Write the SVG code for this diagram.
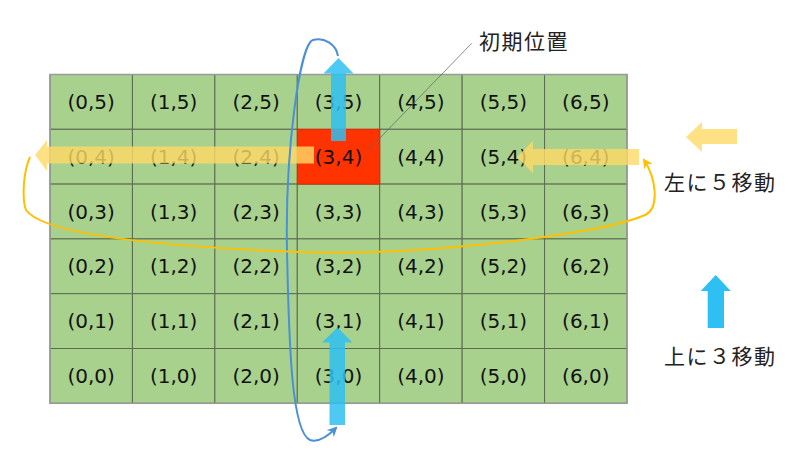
<svg xmlns="http://www.w3.org/2000/svg" width="800" height="450" viewBox="0 0 800 450">
<style>
.c{fill:#A9D18E;stroke:#5B6B50;stroke-width:1}
.r{fill:#FF3300;stroke:#E02800;stroke-width:1}
.t{font-family:"DejaVu Sans",Verdana,sans-serif;font-size:20px;fill:#111;text-anchor:middle}
.j{font-family:"Noto Sans CJK JP","Noto Sans",sans-serif;font-size:21px;fill:#222;letter-spacing:1.5px}
.y{fill:#FFD966;opacity:0.8}
.b{fill:#2EC0F2;opacity:0.85}
.bl{fill:#2EC0F2}
.cb{fill:none;stroke:#4A90D9;stroke-width:2}
.co{fill:none;stroke:#FFC000;stroke-width:2}
</style>
<defs>
<marker id="mb" viewBox="0 0 10 10" refX="8" refY="5" markerWidth="5" markerHeight="5" orient="auto"><path d="M0,0 L10,5 L0,10 L3,5 Z" fill="#4A90D9"/></marker>
<marker id="mo" viewBox="0 0 10 10" refX="8" refY="5" markerWidth="5" markerHeight="5" orient="auto"><path d="M0,0 L10,5 L0,10 L3,5 Z" fill="#FFC000"/></marker>
</defs>
<rect width="800" height="450" fill="#fff"/>
<g id="grid">
<g id="c05"><rect class="c" x="50" y="74.5" width="82.43" height="54.8"/><text class="t" x="91.2" y="109">(0,5)</text></g>
<g id="c15"><rect class="c" x="132.43" y="74.5" width="82.43" height="54.8"/><text class="t" x="173.6" y="109">(1,5)</text></g>
<g id="c25"><rect class="c" x="214.86" y="74.5" width="82.43" height="54.8"/><text class="t" x="256.1" y="109">(2,5)</text></g>
<g id="c35"><rect class="c" x="297.29" y="74.5" width="82.43" height="54.8"/><text class="t" x="338.5" y="109">(3,5)</text></g>
<g id="c45"><rect class="c" x="379.71" y="74.5" width="82.43" height="54.8"/><text class="t" x="420.9" y="109">(4,5)</text></g>
<g id="c55"><rect class="c" x="462.14" y="74.5" width="82.43" height="54.8"/><text class="t" x="503.4" y="109">(5,5)</text></g>
<g id="c65"><rect class="c" x="544.57" y="74.5" width="82.43" height="54.8"/><text class="t" x="585.8" y="109">(6,5)</text></g>

<g id="c04"><rect class="c" x="50" y="129.3" width="82.43" height="54.8"/><text class="t" x="91.2" y="163.8">(0,4)</text></g>
<g id="c14"><rect class="c" x="132.43" y="129.3" width="82.43" height="54.8"/><text class="t" x="173.6" y="163.8">(1,4)</text></g>
<g id="c24"><rect class="c" x="214.86" y="129.3" width="82.43" height="54.8"/><text class="t" x="256.1" y="163.8">(2,4)</text></g>
<g id="c44"><rect class="c" x="379.71" y="129.3" width="82.43" height="54.8"/><text class="t" x="420.9" y="163.8">(4,4)</text></g>
<g id="c54"><rect class="c" x="462.14" y="129.3" width="82.43" height="54.8"/><text class="t" x="503.4" y="163.8">(5,4)</text></g>
<g id="c64"><rect class="c" x="544.57" y="129.3" width="82.43" height="54.8"/><text class="t" x="585.8" y="163.8">(6,4)</text></g>

<g id="c03"><rect class="c" x="50" y="184.1" width="82.43" height="54.8"/><text class="t" x="91.2" y="218.6">(0,3)</text></g>
<g id="c13"><rect class="c" x="132.43" y="184.1" width="82.43" height="54.8"/><text class="t" x="173.6" y="218.6">(1,3)</text></g>
<g id="c23"><rect class="c" x="214.86" y="184.1" width="82.43" height="54.8"/><text class="t" x="256.1" y="218.6">(2,3)</text></g>
<g id="c33"><rect class="c" x="297.29" y="184.1" width="82.43" height="54.8"/><text class="t" x="338.5" y="218.6">(3,3)</text></g>
<g id="c43"><rect class="c" x="379.71" y="184.1" width="82.43" height="54.8"/><text class="t" x="420.9" y="218.6">(4,3)</text></g>
<g id="c53"><rect class="c" x="462.14" y="184.1" width="82.43" height="54.8"/><text class="t" x="503.4" y="218.6">(5,3)</text></g>
<g id="c63"><rect class="c" x="544.57" y="184.1" width="82.43" height="54.8"/><text class="t" x="585.8" y="218.6">(6,3)</text></g>

<g id="c02"><rect class="c" x="50" y="238.9" width="82.43" height="54.8"/><text class="t" x="91.2" y="273.4">(0,2)</text></g>
<g id="c12"><rect class="c" x="132.43" y="238.9" width="82.43" height="54.8"/><text class="t" x="173.6" y="273.4">(1,2)</text></g>
<g id="c22"><rect class="c" x="214.86" y="238.9" width="82.43" height="54.8"/><text class="t" x="256.1" y="273.4">(2,2)</text></g>
<g id="c32"><rect class="c" x="297.29" y="238.9" width="82.43" height="54.8"/><text class="t" x="338.5" y="273.4">(3,2)</text></g>
<g id="c42"><rect class="c" x="379.71" y="238.9" width="82.43" height="54.8"/><text class="t" x="420.9" y="273.4">(4,2)</text></g>
<g id="c52"><rect class="c" x="462.14" y="238.9" width="82.43" height="54.8"/><text class="t" x="503.4" y="273.4">(5,2)</text></g>
<g id="c62"><rect class="c" x="544.57" y="238.9" width="82.43" height="54.8"/><text class="t" x="585.8" y="273.4">(6,2)</text></g>

<g id="c01"><rect class="c" x="50" y="293.7" width="82.43" height="54.8"/><text class="t" x="91.2" y="328.2">(0,1)</text></g>
<g id="c11"><rect class="c" x="132.43" y="293.7" width="82.43" height="54.8"/><text class="t" x="173.6" y="328.2">(1,1)</text></g>
<g id="c21"><rect class="c" x="214.86" y="293.7" width="82.43" height="54.8"/><text class="t" x="256.1" y="328.2">(2,1)</text></g>
<g id="c31"><rect class="c" x="297.29" y="293.7" width="82.43" height="54.8"/><text class="t" x="338.5" y="328.2">(3,1)</text></g>
<g id="c41"><rect class="c" x="379.71" y="293.7" width="82.43" height="54.8"/><text class="t" x="420.9" y="328.2">(4,1)</text></g>
<g id="c51"><rect class="c" x="462.14" y="293.7" width="82.43" height="54.8"/><text class="t" x="503.4" y="328.2">(5,1)</text></g>
<g id="c61"><rect class="c" x="544.57" y="293.7" width="82.43" height="54.8"/><text class="t" x="585.8" y="328.2">(6,1)</text></g>

<g id="c00"><rect class="c" x="50" y="348.5" width="82.43" height="54.8"/><text class="t" x="91.2" y="383">(0,0)</text></g>
<g id="c10"><rect class="c" x="132.43" y="348.5" width="82.43" height="54.8"/><text class="t" x="173.6" y="383">(1,0)</text></g>
<g id="c20"><rect class="c" x="214.86" y="348.5" width="82.43" height="54.8"/><text class="t" x="256.1" y="383">(2,0)</text></g>
<g id="c30"><rect class="c" x="297.29" y="348.5" width="82.43" height="54.8"/><text class="t" x="338.5" y="383">(3,0)</text></g>
<g id="c40"><rect class="c" x="379.71" y="348.5" width="82.43" height="54.8"/><text class="t" x="420.9" y="383">(4,0)</text></g>
<g id="c50"><rect class="c" x="462.14" y="348.5" width="82.43" height="54.8"/><text class="t" x="503.4" y="383">(5,0)</text></g>
<g id="c60"><rect class="c" x="544.57" y="348.5" width="82.43" height="54.8"/><text class="t" x="585.8" y="383">(6,0)</text></g>
<rect x="50" y="74.5" width="577" height="328.8" fill="none" stroke="#9A9A9A" stroke-width="1.5"/>
<g id="c34"><rect class="r" x="297.29" y="129.3" width="82.43" height="54.8"/><text class="t" x="338.5" y="163.8">(3,4)</text></g>
</g>
<g id="arrows">
<polygon id="yellow-left" class="y" points="35,155 47,140 47,146.5 314,146.5 314,163.5 47,163.5 47,171"/>
<polygon id="yellow-right" class="y" points="517,157 533,141 533,149 639,149 639,165 533,165 533,173"/>
<polygon id="blue-top" class="b" points="338.5,58 353.5,73.5 346,73.5 346,141 331,141 331,73.5 323.5,73.5"/>
<polygon id="blue-bottom" class="b" points="337.5,327.5 352.5,342.5 345,342.5 345,425 329.5,425 329.5,342.5 322,342.5"/>
</g>
<g id="connectors">
<path class="cb" marker-end="url(#mb)" d="M338,56 C336,44 324,37 313,40 C300,44 285,150 287,250 C289,350 292,432 310,440 C319,443 328,436 336,428"/>
<path class="co" marker-end="url(#mo)" d="M30,157 C23,172 22,200 26,210 C40,230 120,245 300,252 C420,256 600,235 645,215 C660,208 656,178 644,160"/>
<line x1="471.7" y1="43.3" x2="368.3" y2="150" stroke="#666" stroke-width="0.75"/>
</g>
<g id="label-initial"><text class="j" x="479" y="49">初期位置</text></g>
<g id="legend-left">
<polygon class="y" points="686,137 702,122 702,129 737,129 737,144 702,144 702,152"/>
<text class="j" x="664" y="190">左に５移動</text>
</g>
<g id="legend-up">
<polygon class="bl" points="715.7,275 730.7,291 724,291 724,328 707.7,328 707.7,291 700.7,291"/>
<text class="j" x="664" y="364">上に３移動</text>
</g>
</svg>
